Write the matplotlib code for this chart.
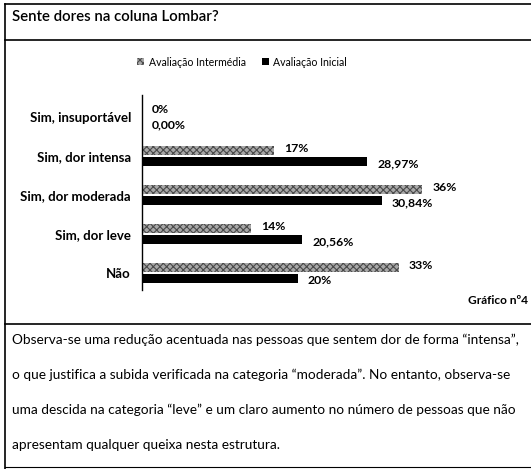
import numpy as np
import matplotlib.pyplot as plt
from matplotlib.lines import Line2D
from matplotlib.patches import Patch

plt.rcParams['font.family'] = ['Lato', 'DejaVu Sans']
plt.rcParams['hatch.linewidth'] = 0.8

# dados
categorias = ["Sim, insuportável", "Sim, dor intensa", "Sim, dor moderada", "Sim, dor leve", "Não"]
intermedia = [0, 17, 36, 14, 33]
inicial = [0.00, 28.97, 30.84, 20.56, 20.00]
rot_intermedia = ["0%", "17%", "36%", "14%", "33%"]
rot_inicial = ["0,00%", "28,97%", "30,84%", "20,56%", "20%"]

W, H = 531, 469
fig = plt.figure(figsize=(W / 100, H / 100), dpi=100)

# eixo do gráfico em coordenadas de pixel
x0, y_top, y_bot = 142, 95, 290
ax = fig.add_axes([x0 / W, 1 - y_bot / H, (W - x0) / W, (y_bot - y_top) / H])
ax.set_xlim(0, (W - x0) / 7.78)
ax.set_ylim(4.436, -0.564)

y = np.arange(len(categorias))
h = 0.23
off = 0.15
ax.barh(y - off, intermedia, height=h, color='#a8a8a8', edgecolor='#4a4a4a',
        hatch='xxxxx', linewidth=0)
ax.barh(y + off, inicial, height=h, color='black', linewidth=0)

for i in range(len(categorias)):
    ax.text(intermedia[i] + 1.3, y[i] - off - 0.05, rot_intermedia[i], fontsize=8.8,
            fontweight='bold', va='center', ha='left')
    ax.text(inicial[i] + 1.3, y[i] + off + 0.05, rot_inicial[i], fontsize=8.8,
            fontweight='bold', va='center', ha='left')

ax.set_yticks(y)
ax.set_yticklabels(categorias, fontsize=9.5, fontweight='bold')
ax.tick_params(axis='y', length=0, pad=8)
ax.set_xticks([])
for s in ['top', 'right', 'bottom']:
    ax.spines[s].set_visible(False)
ax.spines['left'].set_linewidth(1.0)

# legenda
handles = [Patch(facecolor='#a8a8a8', edgecolor='#4a4a4a', hatch='xxxxx', linewidth=0),
           Patch(facecolor='black')]
fig.legend(handles, ["Avaliação Intermédia", "Avaliação Inicial"], loc='center',
           bbox_to_anchor=(242 / W, 1 - 62 / H), ncol=2, frameon=False, fontsize=7.6,
           handlelength=0.7, handleheight=0.7, columnspacing=1.5, handletextpad=0.4)

# moldura da página
def linha(xs, ys, lw=1.2):
    fig.add_artist(Line2D([v / W for v in xs], [1 - v / H for v in ys],
                          color='black', linewidth=lw))

linha([5, W], [4, 4])
linha([5, 5], [4, H])
linha([5, W], [40, 40])
linha([5, W], [324, 324])
linha([5, W], [467, 467], lw=0.8)

fig.text(12 / W, 1 - 17 / H, "Sente dores na coluna Lombar?", fontsize=10.8,
         fontweight='semibold', va='center', ha='left')
fig.text(528 / W, 1 - 301 / H, "Gráfico nº4", fontsize=8.6, fontweight='bold',
         va='center', ha='right')

paragrafo = [
    "Observa-se uma redução acentuada nas pessoas que sentem dor de forma “intensa”,",
    "o que justifica a subida verificada na categoria “moderada”. No entanto, observa-se",
    "uma descida na categoria “leve” e um claro aumento no número de pessoas que não",
    "apresentam qualquer queixa nesta estrutura.",
]
for k, t in enumerate(paragrafo):
    fig.text(12 / W, 1 - (340 + 35 * k) / H, t, fontsize=9.85, va='center', ha='left')

fig.savefig("out.png", dpi=100)
